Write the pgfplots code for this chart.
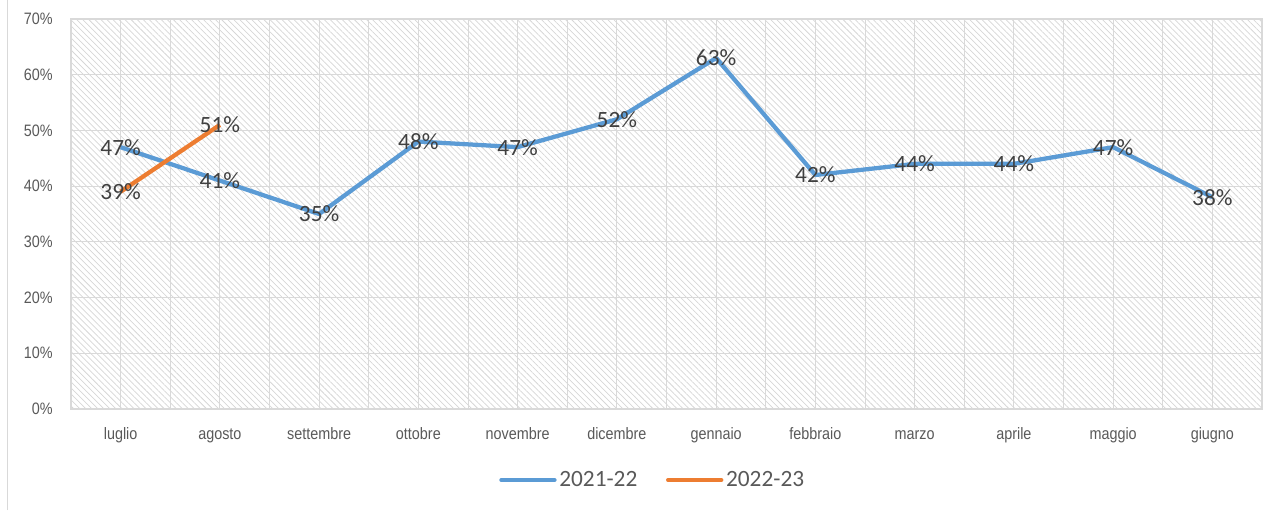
\documentclass[border=0pt]{standalone}
\usepackage{fontspec}
\setmainfont{Carlito}
\newfontfamily\tickfont[FakeStretch=0.87]{Liberation Sans}
\usepackage{pgfplots}
\pgfplotsset{compat=1.18}
\usetikzlibrary{patterns.meta}
\definecolor{sblue}{HTML}{5B9BD5}
\definecolor{sorange}{HTML}{ED7D31}
\definecolor{tickgray}{HTML}{595959}
\definecolor{labgray}{HTML}{404040}
\definecolor{gridgray}{HTML}{D9D9D9}

\begin{document}
\begin{tikzpicture}
\useasboundingbox (0,0) rectangle (957pt,382.5pt);
\draw[gridgray, line width=1.1pt] (5.6pt,0) -- (5.6pt,382.5pt);
\begin{axis}[
 at={(53.25pt,75.75pt)}, anchor=south west,
 scale only axis, width=893.25pt, height=292.5pt,
 xmin=-0.5, xmax=11.5, ymin=0, ymax=70,
 xtick={0,...,11}, minor xtick={-0.5,0.5,...,11.5},
 xticklabels={luglio,agosto,settembre,ottobre,novembre,dicembre,gennaio,febbraio,marzo,aprile,maggio,giugno},
 ytick={0,10,...,70},
 /pgf/number format/assume math mode=true,
 yticklabel={\pgfmathprintnumber{\tick}\%},
 major tick length=0pt, minor tick length=0pt,
 xmajorgrids, xminorgrids, ymajorgrids,
 grid style={gridgray, line width=0.75pt},
 minor grid style={gridgray, line width=0.75pt},
 axis line style={gridgray, line width=0.9pt},
 axis background/.style={pattern={Lines[angle=-45,distance=3.2pt,line width=0.55pt]}, pattern color=black!16},
 tick label style={font=\tickfont\fontsize{12.4}{14}\selectfont, text=tickgray},
 xticklabel style={anchor=base, yshift=-22.5pt, inner sep=0pt},
 yticklabel style={anchor=east, xshift=-13.5pt, inner sep=0pt},
 nodes near coords={\pgfmathprintnumber{\pgfplotspointmeta}\%},
 nodes near coords align={anchor=center},
 every node near coord/.append style={font=\fontsize{17.5}{20}\selectfont, text=labgray, inner sep=0pt},
 legend columns=2,
 legend style={at={(0.4887,-0.182)}, anchor=center, draw=none, fill=none,
   font=\fontsize{17.5}{20}\selectfont, text=tickgray,
   /tikz/every even column/.append style={column sep=19.5pt}, inner sep=0pt,
   nodes={inner sep=2pt}},
 legend image code/.code={\draw[#1, line width=3pt, line cap=round] (0pt,0pt) -- (40pt,0pt);},
 clip=false,
]
\addplot[sblue, line width=3.2pt, line join=round, mark=none] coordinates {
 (0,47) (1,41) (2,35) (3,48) (4,47) (5,52) (6,63) (7,42) (8,44) (9,44) (10,47) (11,38)};
\addplot[sorange, line width=3.2pt, line join=round, mark=none] coordinates {
 (0,39) (1,51)};
\legend{2021-22,2022-23}
\end{axis}
\end{tikzpicture}
\end{document}
